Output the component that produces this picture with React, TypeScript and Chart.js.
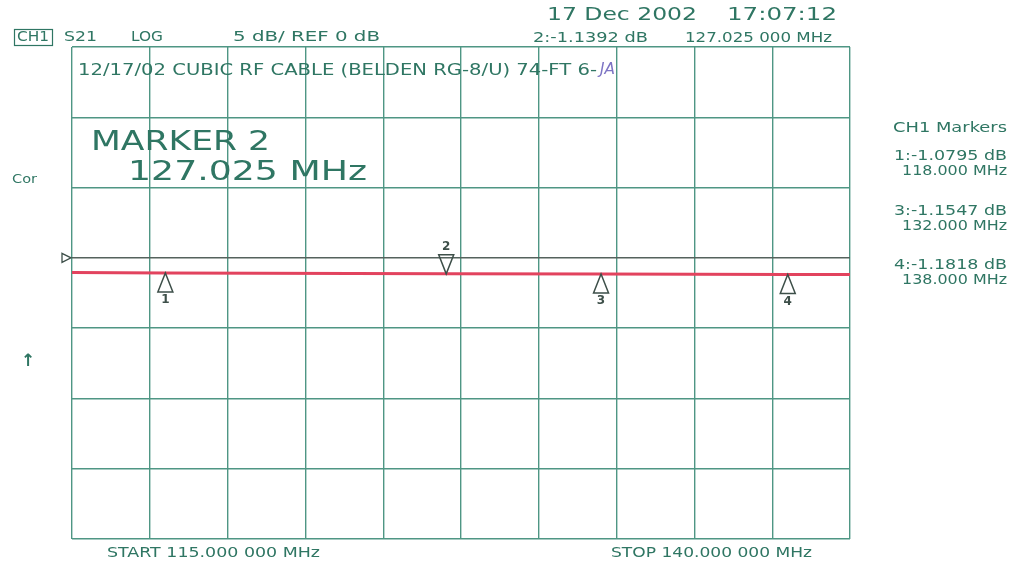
import { useEffect, useRef } from "react";
import { Chart, registerables } from "chart.js";

Chart.register(...registerables);

// Sweep settings (MHz) and display scale (dB)
const startMHz = 115;
const stopMHz = 140;
const refDb = 0;
const dbPerDiv = 5;
const divsAboveRef = 3;
const divsBelowRef = 4;
const freqDivs = 10;

// Measured S21 trace
const traceFreqs = [115, 118, 127.025, 132, 138, 140];
const traceDb = [-1.05, -1.0795, -1.1392, -1.1547, -1.1818, -1.19];

// Markers
const markerIds = ["1", "2", "3", "4"];
const markerFreqs = [118, 127.025, 132, 138];
const markerDb = [-1.0795, -1.1392, -1.1547, -1.1818];
const activeMarker = 1;

const titleText = "12/17/02 CUBIC RF CABLE (BELDEN RG-8/U) 74-FT 6-";
const dateText = "17 Dec 2002";
const timeText = "17:07:12";

const TEXT = "#2f7663";
const GRID = "#4f9684";
const REFLINE = "#55625d";
const TRACE = "#e2435e";
const MARK = "#3d4f49";
const FONT = '"DejaVu Sans", sans-serif';

const fmtFreq = (f: number) => {
  const s = f.toFixed(6);
  return `${s.slice(0, s.length - 3)} ${s.slice(s.length - 3)} MHz`;
};

function fitText(
  ctx: CanvasRenderingContext2D,
  text: string,
  x: number,
  y: number,
  width: number,
  size: number,
  opts: { color?: string; align?: "left" | "right"; style?: string } = {}
) {
  ctx.save();
  ctx.font = `${opts.style ?? ""} ${size}px ${FONT}`;
  ctx.fillStyle = opts.color ?? TEXT;
  ctx.textBaseline = "middle";
  ctx.textAlign = "left";
  const w = ctx.measureText(text).width;
  const sx = width / w;
  const left = opts.align === "right" ? x - width : x;
  ctx.translate(left, y);
  ctx.scale(sx, 1);
  ctx.fillText(text, 0, 0);
  ctx.restore();
}

const annotations = {
  id: "analyzerAnnotations",
  afterDatasetsDraw(chart: Chart) {
    const ctx = chart.ctx;
    const xs = chart.scales.x;
    const ys = chart.scales.y;

    // reference position arrow
    const yRef = ys.getPixelForValue(refDb);
    const xl = chart.chartArea.left;
    ctx.save();
    ctx.strokeStyle = MARK;
    ctx.lineWidth = 1.3;
    ctx.beginPath();
    ctx.moveTo(xl - 10, yRef - 4.5);
    ctx.lineTo(xl - 1, yRef);
    ctx.lineTo(xl - 10, yRef + 4.5);
    ctx.closePath();
    ctx.stroke();

    // marker triangles
    markerFreqs.forEach((f, i) => {
      const px = xs.getPixelForValue(f);
      const py = ys.getPixelForValue(markerDb[i]);
      const up = i !== activeMarker;
      const dir = up ? 1 : -1;
      ctx.strokeStyle = MARK;
      ctx.lineWidth = 1.5;
      ctx.beginPath();
      ctx.moveTo(px, py);
      ctx.lineTo(px - 7.5, py + dir * 19);
      ctx.lineTo(px + 7.5, py + dir * 19);
      ctx.closePath();
      ctx.stroke();
      ctx.fillStyle = MARK;
      ctx.font = `bold 12px ${FONT}`;
      ctx.textAlign = "center";
      ctx.textBaseline = "middle";
      ctx.fillText(markerIds[i], px, py + dir * 27);
    });
    ctx.restore();

    // header
    ctx.save();
    ctx.strokeStyle = TEXT;
    ctx.lineWidth = 1.2;
    ctx.strokeRect(14.5, 29.5, 38, 16);
    ctx.restore();
    fitText(ctx, "CH1", 17, 37.5, 32, 14);
    fitText(ctx, "S21", 64, 37.5, 33, 14);
    fitText(ctx, "LOG", 131, 37.5, 32, 14);
    fitText(ctx, `${dbPerDiv} dB/ REF ${refDb} dB`, 233, 37.5, 147, 14);
    fitText(ctx, dateText, 547, 15, 150, 18);
    fitText(ctx, timeText, 727, 15, 110, 18);
    fitText(
      ctx,
      `${markerIds[activeMarker]}:${markerDb[activeMarker].toFixed(4)} dB`,
      533,
      38,
      115,
      14
    );
    fitText(ctx, fmtFreq(markerFreqs[activeMarker]), 685, 38, 147, 14);

    // title inside the graticule
    fitText(ctx, titleText, 78, 71, 519, 15);
    fitText(ctx, "JA", 600, 70, 15, 15, { color: "#7d74c4", style: "italic" });

    // active marker readout
    fitText(ctx, `MARKER ${markerIds[activeMarker]}`, 91, 143, 179, 26);
    fitText(ctx, `${markerFreqs[activeMarker].toFixed(3)} MHz`, 128, 173, 239, 26);

    // left annotations
    fitText(ctx, "Cor", 12, 180, 25, 13);
    ctx.save();
    ctx.fillStyle = TEXT;
    ctx.font = `bold 17px ${FONT}`;
    ctx.textAlign = "center";
    ctx.textBaseline = "middle";
    ctx.fillText("↑", 28, 362);
    ctx.restore();

    // marker table
    fitText(ctx, "CH1 Markers", 1007, 128, 114, 14, { align: "right" });
    const rows = [0, 2, 3];
    const rowY = [156, 211, 265];
    rows.forEach((m, r) => {
      fitText(ctx, `${markerIds[m]}:${markerDb[m].toFixed(4)} dB`, 1007, rowY[r], 113, 14, {
        align: "right",
      });
      fitText(ctx, `${markerFreqs[m].toFixed(3)} MHz`, 1007, rowY[r] + 15, 105, 14, {
        align: "right",
      });
    });

    // sweep range
    fitText(ctx, `START ${fmtFreq(startMHz)}`, 107, 553, 213, 14);
    fitText(ctx, `STOP ${fmtFreq(stopMHz)}`, 611, 553, 201, 14);
  },
};

export default function App() {
  const ref = useRef<HTMLCanvasElement | null>(null);

  useEffect(() => {
    if (!ref.current) return;
    const chart = new Chart(ref.current, {
      type: "line",
      data: {
        datasets: [
          {
            data: traceFreqs.map((f, i) => ({ x: f, y: traceDb[i] })),
            borderColor: TRACE,
            borderWidth: 3,
            pointRadius: 0,
            tension: 0,
          },
        ],
      },
      options: {
        responsive: false,
        animation: false,
        layout: { padding: { left: 72, top: 47, right: 166, bottom: 25 } },
        plugins: { legend: { display: false }, tooltip: { enabled: false } },
        scales: {
          x: {
            type: "linear",
            min: startMHz,
            max: stopMHz,
            ticks: { display: false, stepSize: (stopMHz - startMHz) / freqDivs },
            grid: { color: GRID, lineWidth: 1.4, drawTicks: false },
            border: { display: false },
          },
          y: {
            type: "linear",
            min: refDb - divsBelowRef * dbPerDiv,
            max: refDb + divsAboveRef * dbPerDiv,
            ticks: { display: false, stepSize: dbPerDiv },
            grid: {
              color: (c: any) => (c.tick && c.tick.value === refDb ? REFLINE : GRID),
              lineWidth: 1.4,
              drawTicks: false,
            },
            border: { display: false },
          },
        },
      },
      plugins: [annotations],
    });
    return () => chart.destroy();
  }, []);

  return (
    <div style={{ position: "fixed", left: 0, top: 0, width: 1016, height: 564, background: "#ffffff" }}>
      <canvas ref={ref} width={1016} height={564} />
    </div>
  );
}
